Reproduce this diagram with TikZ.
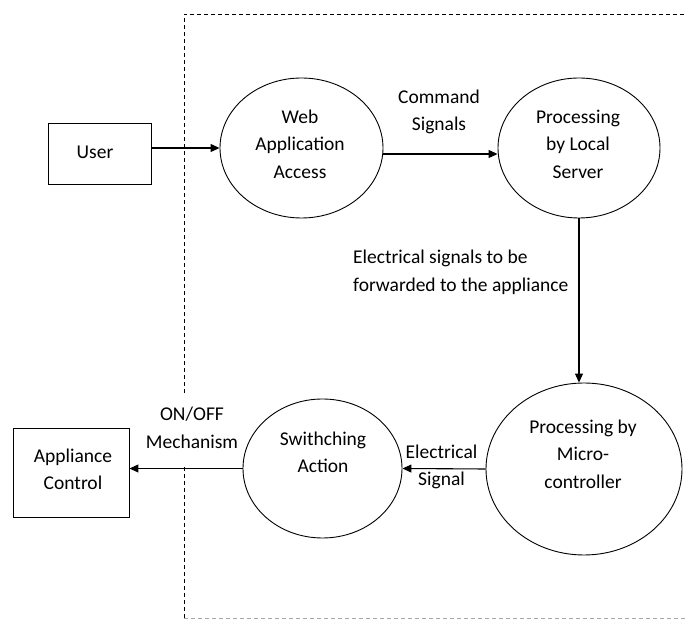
\documentclass[tikz,border=0pt]{standalone}
\usepackage{fontspec}
\setmainfont{Carlito}
\usetikzlibrary{shapes.geometric,arrows.meta}
\tikzset{
  x=1pt,y=1pt,
  proc/.style={draw,ellipse,line width=0.9pt,inner sep=0pt},
  ent/.style={draw,rectangle,line width=0.9pt,inner sep=0pt},
  txt/.style={align=center,font=\fontsize{19.5}{27.5}\selectfont,inner sep=0pt},
  arr/.style={line width=1.1pt,-{Triangle[length=9pt,width=8pt]}},
  frame/.style={line width=0.9pt,dash pattern=on 4pt off 3pt},
}
\begin{document}
\begin{tikzpicture}
\useasboundingbox (0,0) rectangle (686,621);
% frame
\draw[frame] (184,228) -- (184,607) -- (686,607);
\draw[frame] (184,154) -- (184,3);
\draw[frame,black!35] (184,2.5) -- (686,2.5);
% entities
\node[ent,minimum width=103pt,minimum height=61pt] (user) at (99.5,467.5) {};
\node[txt] (usert) at (95,469) {User};
\node[ent,minimum width=116pt,minimum height=89pt] (appl) at (71,148.5) {};
\node[txt] (applt) at (73,151.5) {Appliance\\Control};
% processes
\node[proc,minimum width=163pt,minimum height=140pt] (web) at (301.5,473) {};
\node[txt] (webt) at (300,477) {Web\\Application\\Access};
\node[proc,minimum width=162pt,minimum height=140pt] (server) at (579,473) {};
\node[txt] (servert) at (578,477) {Processing\\by Local\\Server};
\node[proc,minimum width=196pt,minimum height=172pt] (micro) at (584,152) {};
\node[txt] (microt) at (583,167) {Processing by\\Micro-\\controller};
\node[proc,minimum width=159pt,minimum height=139pt] (switch) at (322.5,152.5) {};
\node[txt] (switcht) at (323,168.5) {Swithching\\Action};
% connectors
\draw[arr] (user.east |- web.west) -- (web.west);
\draw[arr] ([yshift=-6pt]web.east) -- ([yshift=-6pt]server.west);
\draw[arr] (server.south) -- (server.south |- micro.north);
\draw[arr] (micro.west) -- (switch.east);
\draw[arr] (switch.west) -- (appl.east |- switch.west);
% labels
\node[txt] (cmdl) at (439,509) {Command\\Signals};
\node[txt,align=left,anchor=west] (elecl) at (353,348.5) {Electrical signals to be\\forwarded to the appliance};
\node[txt] (sigl) at (441.5,154) {Electrical\\Signal};
\node[txt] (onoffl) at (192,193) {ON/OFF\\Mechanism};
\end{tikzpicture}
\end{document}
